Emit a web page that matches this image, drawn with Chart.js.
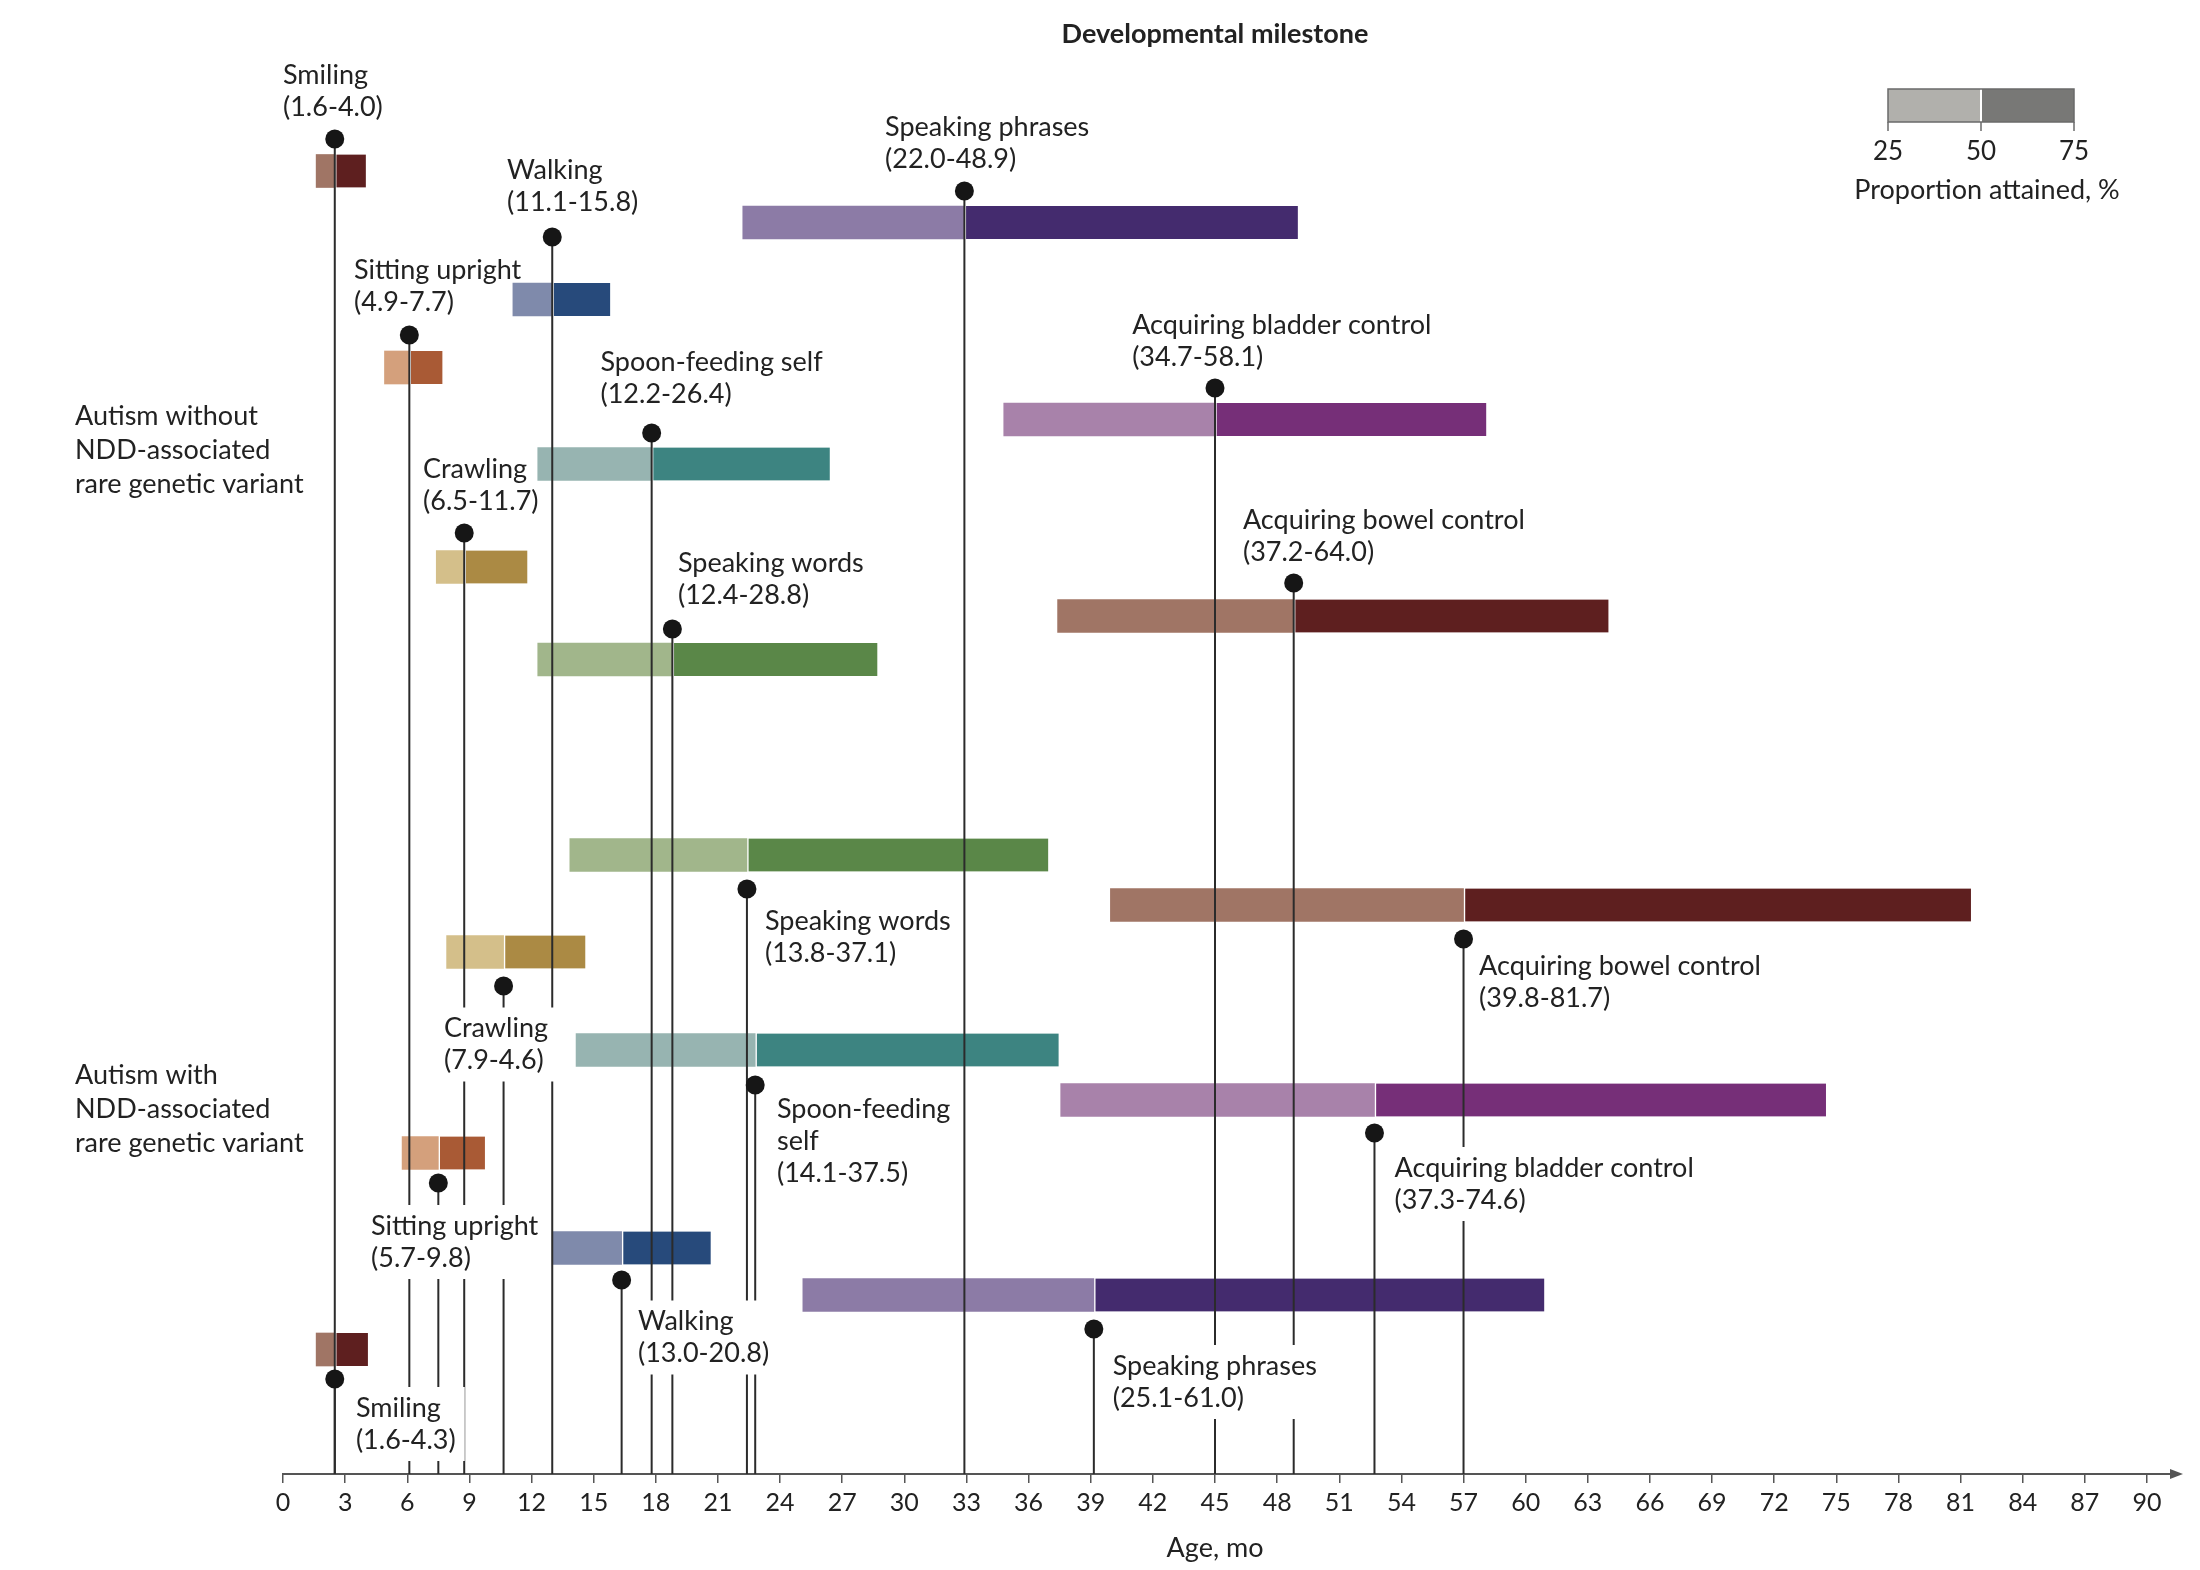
<!DOCTYPE html>
<html>
<head>
<meta charset="utf-8">
<title>Developmental milestone</title>
<script src="https://cdn.jsdelivr.net/npm/chart.js@4.4.1/dist/chart.umd.min.js"></script>
<style>
  html, body { margin: 0; padding: 0; background: #fff; }
  #wrap { width: 2200px; height: 1570px; position: relative; }
</style>
</head>
<body>
<div id="wrap"><canvas id="grafico"></canvas></div>
<script>
// milestones, same order in both groups
const milestones = ['Smiling', 'Sitting upright', 'Crawling', 'Walking', 'Spoon-feeding self',
    'Speaking words', 'Speaking phrases', 'Acquiring bladder control', 'Acquiring bowel control'];

// age in months when 25%, 50% and 75% had attained the milestone
const withoutP25 = [1.6, 4.9, 7.4, 11.1, 12.3, 12.3, 22.2, 34.8, 37.4];
const withoutP50 = [2.5, 6.1, 8.75, 13.0, 17.8, 18.8, 32.9, 45.0, 48.8];
const withoutP75 = [4.0, 7.7, 11.8, 15.8, 26.4, 28.7, 49.0, 58.1, 64.0];
const withoutRanges = ['(1.6-4.0)', '(4.9-7.7)', '(6.5-11.7)', '(11.1-15.8)', '(12.2-26.4)',
    '(12.4-28.8)', '(22.0-48.9)', '(34.7-58.1)', '(37.2-64.0)'];

const withP25 = [1.6, 5.75, 7.9, 13.0, 14.15, 13.85, 25.1, 37.55, 39.95];
const withP50 = [2.5, 7.5, 10.65, 16.35, 22.8, 22.4, 39.15, 52.7, 57.0];
const withP75 = [4.1, 9.75, 14.6, 20.65, 37.45, 36.95, 60.9, 74.5, 81.5];
const withRanges = ['(1.6-4.3)', '(5.7-9.8)', '(7.9-4.6)', '(13.0-20.8)', '(14.1-37.5)',
    '(13.8-37.1)', '(25.1-61.0)', '(37.3-74.6)', '(39.8-81.7)'];

const ageMin = 0;
const ageMax = 90;
const ageStep = 3;
const legendTicks = [25, 50, 75];

const lightColors = ['#a07565', '#d4a07c', '#d4bf8a', '#7f8aab', '#97b4b1', '#a1b68b', '#8c7ba6', '#a882aa', '#a07565'];
const darkColors = ['#5e1f1f', '#a95a35', '#ab8a44', '#274a7b', '#3d8481', '#5a8748', '#442b6e', '#762f78', '#5e1f1f'];

// layout: vertical tracks (0 = top of plot, AXIS_Y = age axis), label anchors in months
const AXIS_Y = 1474;
const withoutBarY = [171, 367.5, 567, 299.5, 464, 659.5, 222.5, 419.5, 616];
const withoutDotY = [139, 335, 533, 237, 433, 629, 191, 388, 583];
const withoutLabelX = [0.0, 3.43, 6.76, 10.82, 15.33, 19.07, 29.07, 41.0, 46.35];
const withoutLabelY = [75, 270, 469, 170, 362, 563, 127, 325, 520];

const withBarY = [1349.5, 1153, 952, 1248, 1050, 855, 1295, 1100, 905];
const withDotY = [1379, 1183, 986, 1280, 1085, 889, 1329, 1133, 939];
const withLabelX = [3.52, 4.25, 7.77, 17.14, 23.85, 23.27, 40.06, 53.67, 57.75];
const withLabelY = [1408, 1226, 1028.5, 1321.5, 1109, 921, 1366, 1168, 966];

const FONT = 'Lato, "Noto Sans", sans-serif';
const TEXT = '#222';


function barData(from, to, track) {
    return milestones.map((m, i) => ({ x: [from[i], to[i]], y: track[i] }));
}

const lightBars = [...barData(withoutP25, withoutP50, withoutBarY), ...barData(withP25, withP50, withBarY)];
const darkBars = [...barData(withoutP50, withoutP75, withoutBarY), ...barData(withP50, withP75, withBarY)];
const dots = [
    ...milestones.map((m, i) => ({ x: withoutP50[i], y: withoutDotY[i] })),
    ...milestones.map((m, i) => ({ x: withP50[i], y: withDotY[i] }))
];

const stems = dots.map((d) => ({
    type: 'line',
    data: [{ x: d.x, y: d.y }, { x: d.x, y: AXIS_Y }],
    borderColor: '#2b2b2b',
    borderWidth: 2,
    pointRadius: 0,
    order: 1
}));


function drawLabel(ctx, x, y, lines, boxed) {
    ctx.font = `27px ${FONT}`;
    ctx.textBaseline = 'middle';
    ctx.textAlign = 'left';
    if (boxed) {
        const w = Math.max(...lines.map(l => ctx.measureText(l).width));
        ctx.fillStyle = '#fff';
        ctx.fillRect(x - 7, y - 21, w + 16, (lines.length - 1) * 32 + 42);
    }
    ctx.fillStyle = TEXT;
    lines.forEach((l, i) => ctx.fillText(l, x, y + i * 32));
}

const annotations = {
    id: 'annotations',
    afterDatasetsDraw(chart) {
        const ctx = chart.ctx;
        const xs = chart.scales.x;
        const ys = chart.scales.y;
        const area = chart.chartArea;
        ctx.save();

        // milestone labels
        milestones.forEach((m, i) => {
            drawLabel(ctx, xs.getPixelForValue(withoutLabelX[i]), ys.getPixelForValue(withoutLabelY[i]),
                [m, withoutRanges[i]], false);
            const name = m === 'Spoon-feeding self' ? ['Spoon-feeding', 'self'] : [m];
            drawLabel(ctx, xs.getPixelForValue(withLabelX[i]), ys.getPixelForValue(withLabelY[i]),
                [...name, withRanges[i]], true);
        });

        // group labels
        ctx.font = `27px ${FONT}`;
        ctx.fillStyle = TEXT;
        ctx.textBaseline = 'middle';
        ctx.textAlign = 'left';
        ['Autism without', 'NDD-associated', 'rare genetic variant'].forEach((t, i) => ctx.fillText(t, 75, 416 + i * 34));
        ['Autism with', 'NDD-associated', 'rare genetic variant'].forEach((t, i) => ctx.fillText(t, 75, 1075 + i * 34));

        // title
        ctx.font = `bold 27px ${FONT}`;
        ctx.textAlign = 'center';
        ctx.fillText('Developmental milestone', (area.left + area.right) / 2, 34);

        // axis arrow
        const tip = xs.getPixelForValue(ageMax) + 36;
        ctx.strokeStyle = '#555';
        ctx.lineWidth = 2;
        ctx.beginPath();
        ctx.moveTo(area.right, area.bottom);
        ctx.lineTo(tip - 6, area.bottom);
        ctx.stroke();
        ctx.fillStyle = '#555';
        ctx.beginPath();
        ctx.moveTo(tip, area.bottom);
        ctx.lineTo(tip - 13, area.bottom - 5);
        ctx.lineTo(tip - 13, area.bottom + 5);
        ctx.closePath();
        ctx.fill();

        // legend
        const lx0 = 1888, lx1 = 2074, ly = 89, lh = 33;
        const lmid = (lx0 + lx1) / 2;
        ctx.fillStyle = '#b1b0ac';
        ctx.fillRect(lx0, ly, lmid - lx0, lh);
        ctx.fillStyle = '#787876';
        ctx.fillRect(lmid, ly, lx1 - lmid, lh);
        ctx.fillStyle = '#fff';
        ctx.fillRect(lmid - 1, ly, 2, lh);
        ctx.strokeStyle = '#6a6a6a';
        ctx.lineWidth = 1.5;
        ctx.strokeRect(lx0, ly, lx1 - lx0, lh);
        ctx.font = `26px ${FONT}`;
        ctx.textAlign = 'center';
        legendTicks.forEach((v, i) => {
            const px = lx0 + (lx1 - lx0) * i / (legendTicks.length - 1);
            ctx.beginPath();
            ctx.moveTo(px, ly + lh);
            ctx.lineTo(px, ly + lh + 9);
            ctx.stroke();
            ctx.fillStyle = TEXT;
            ctx.fillText(String(v), px, 152);
        });
        ctx.font = `27px ${FONT}`;
        ctx.fillText('Proportion attained, %', 1987, 190);

        ctx.restore();
    }
};

const grafico = new Chart(document.getElementById('grafico'), {
    type: 'bar',
    data: {
        datasets: [
            {
                type: 'scatter',
                data: dots,
                pointRadius: 9.5,
                pointBackgroundColor: '#161616',
                pointBorderWidth: 0,
                order: 0
            },
            ...stems,
            {
                data: lightBars,
                backgroundColor: lightColors.concat(lightColors),
                borderWidth: 0,
                order: 2
            },
            {
                data: darkBars,
                backgroundColor: darkColors.concat(darkColors),
                borderColor: '#ffffff',
                borderWidth: { left: 2, right: 0, top: 0, bottom: 0 },
                borderSkipped: false,
                order: 2
            }
        ]
    },
    options: {
        indexAxis: 'y',
        responsive: true,
        maintainAspectRatio: false,
        animation: false,
        devicePixelRatio: 1,
        grouped: false,
        maxBarThickness: 33,
        categoryPercentage: 1,
        barPercentage: 1,
        layout: { autoPadding: false, padding: { left: 283, right: 53, top: 0, bottom: 0 } },
        plugins: { legend: { display: false }, tooltip: { enabled: false } },
        scales: {
            x: {
                type: 'linear',
                min: ageMin,
                max: ageMax,
                ticks: {
                    stepSize: ageStep,
                    autoSkip: false,
                    maxRotation: 0,
                    color: TEXT,
                    padding: 5,
                    font: { family: FONT, size: 25 }
                },
                grid: { drawOnChartArea: false, drawTicks: true, tickLength: 9, color: '#555', lineWidth: 1.5 },
                border: { display: true, color: '#555', width: 2 },
                title: {
                    display: true,
                    text: 'Age, mo',
                    color: TEXT,
                    font: { family: FONT, size: 27 },
                    padding: { top: 0, bottom: 6 }
                },
                afterFit(scale) {
                    scale.height = 96;
                }
            },
            y: {
                type: 'linear',
                min: 0,
                max: AXIS_Y,
                reverse: true,
                offset: false,
                grid: { offset: false, display: false },
                ticks: { display: false },
                display: false
            }
        }
    },
    plugins: [annotations]
});
</script>
</body>
</html>
